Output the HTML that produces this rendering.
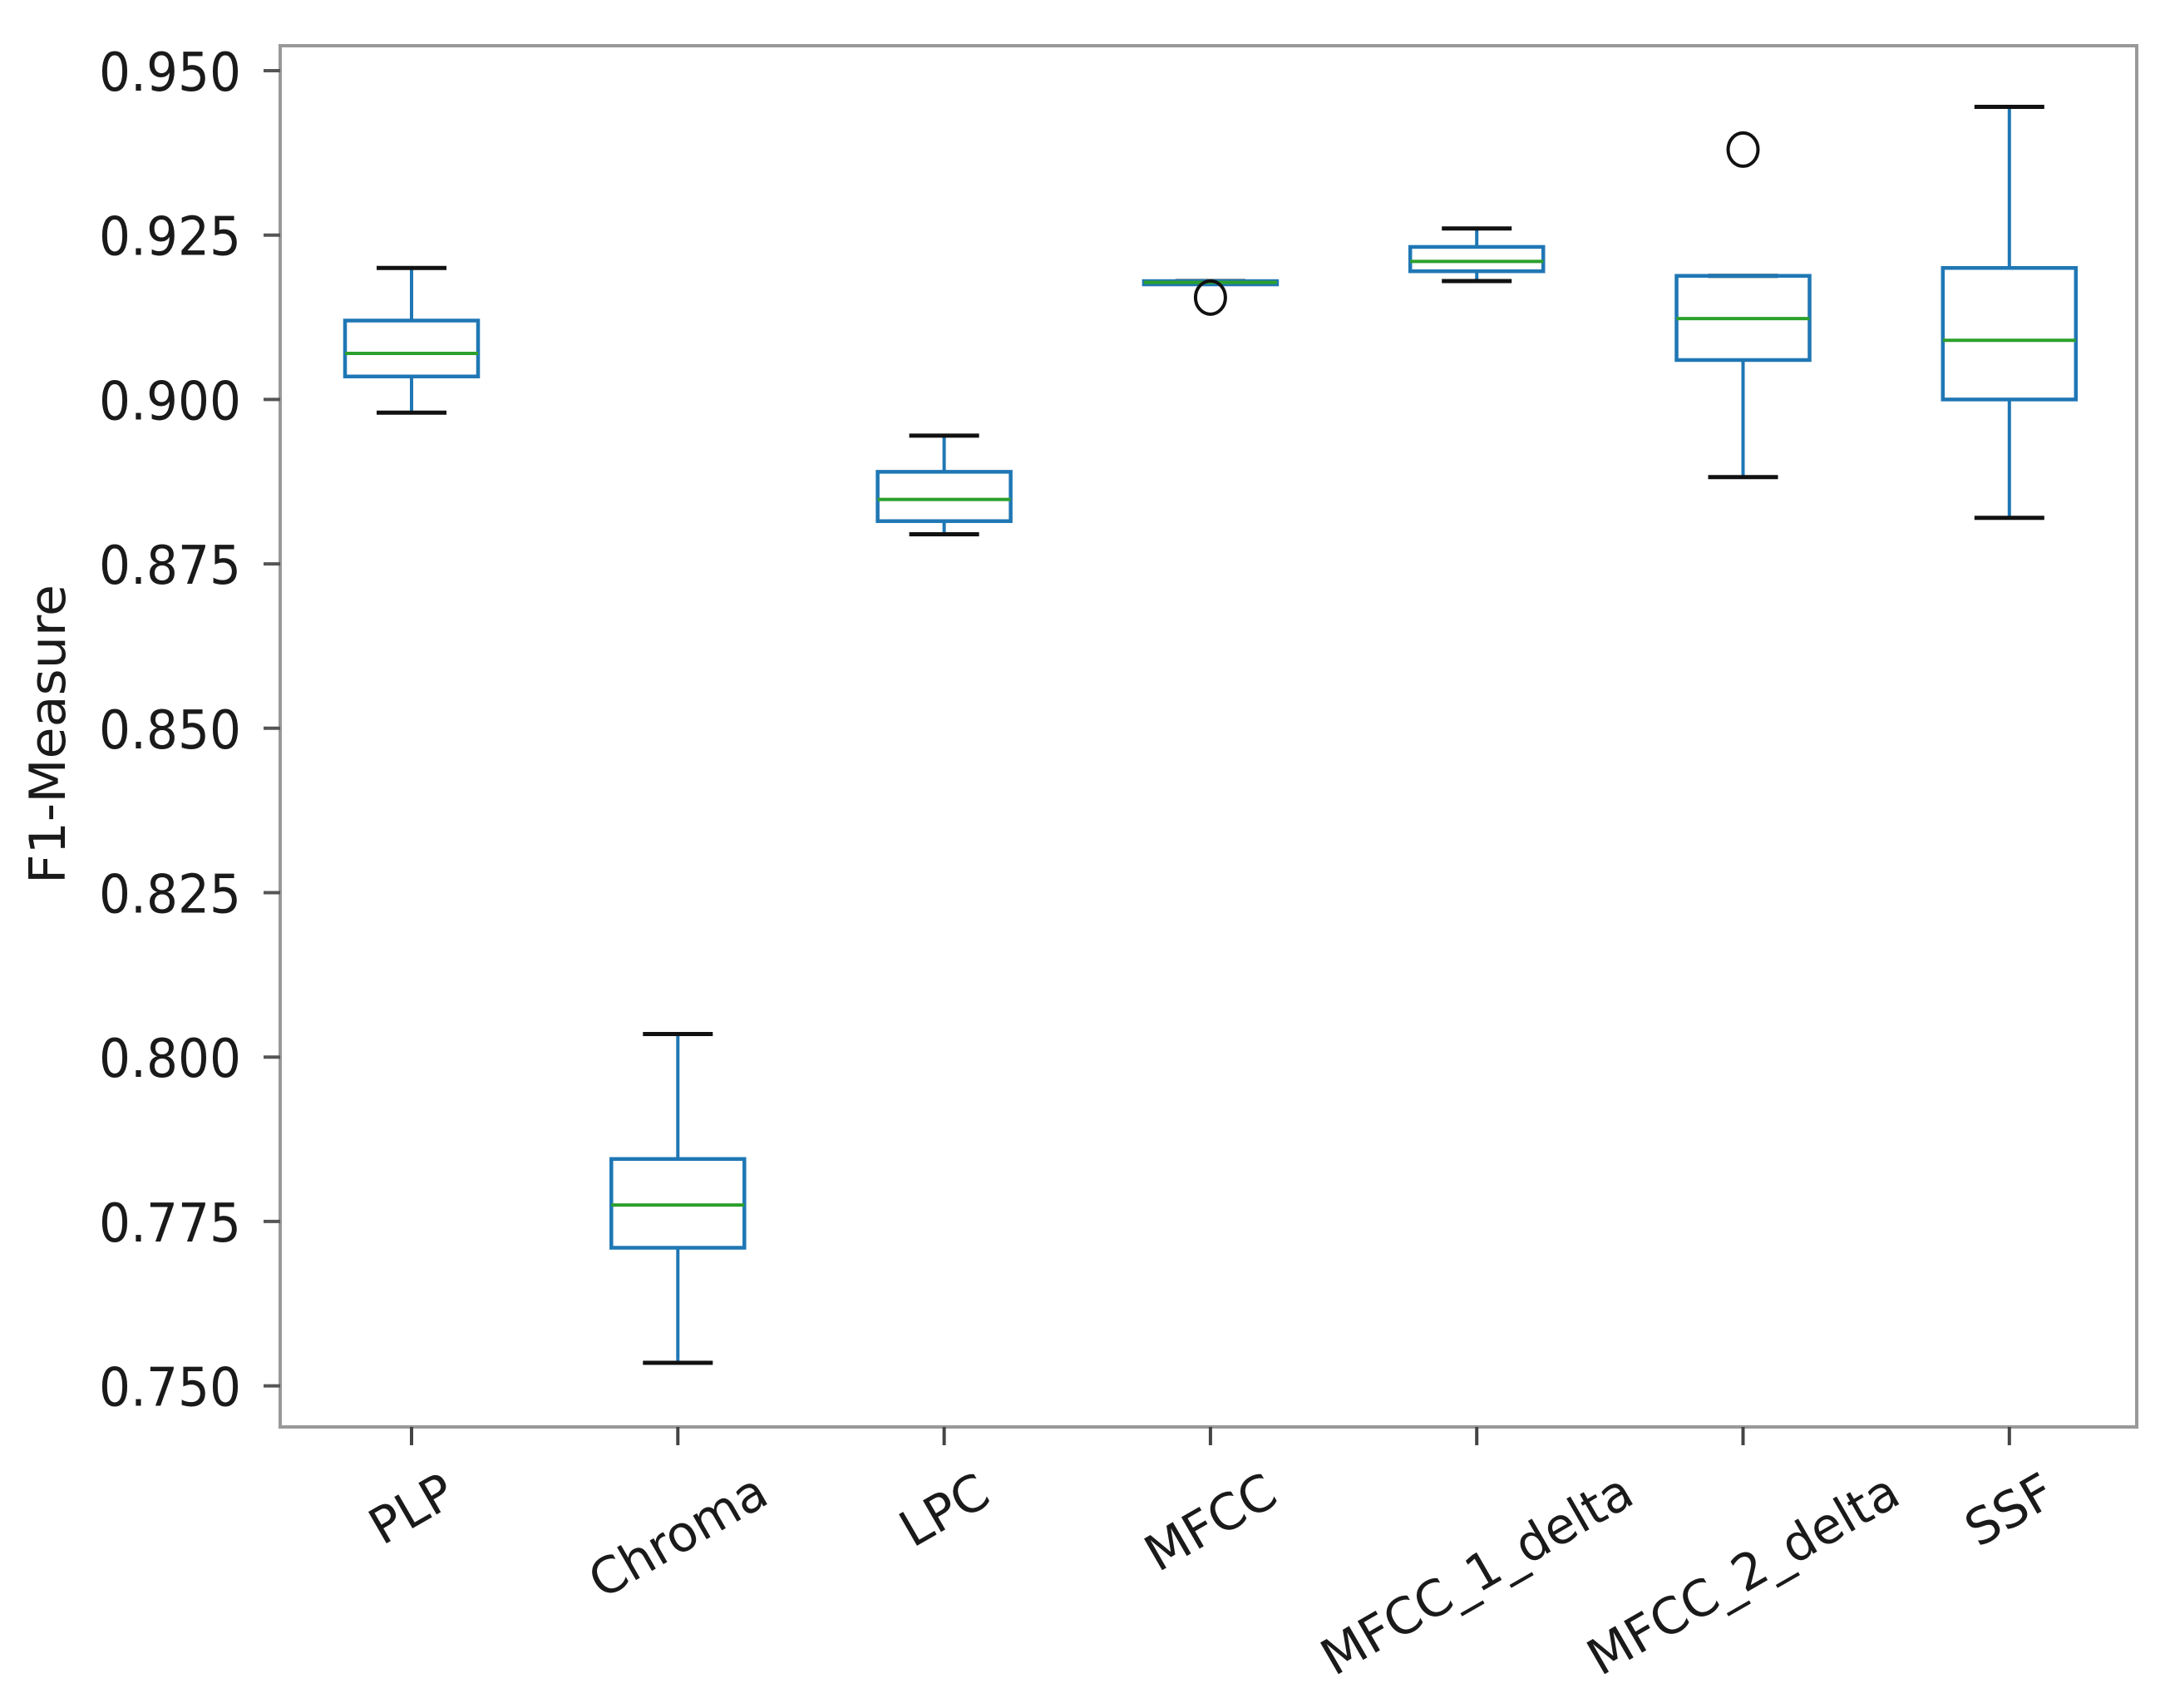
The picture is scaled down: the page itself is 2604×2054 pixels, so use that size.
<!DOCTYPE html>
<html><head><meta charset="utf-8"><style>
html,body{margin:0;padding:0;background:#fff}
svg{display:block}
text{font-family:"DejaVu Sans","Liberation Sans",sans-serif;fill:#1a1a1a}
</style></head><body>
<svg id="chart" width="2604" height="2054" viewBox="0 0 2604 2054">
<g id="plot"></g>
<text transform="translate(78,883) rotate(-90)" text-anchor="middle" font-size="60" textLength="360" lengthAdjust="spacingAndGlyphs">F1-Measure</text>
</svg>
<script>
const categories = ["PLP","Chroma","LPC","MFCC","MFCC_1_delta","MFCC_2_delta","SSF"];
const whiskerLow  = [0.898, 0.7535, 0.8795, 0.9176, 0.918, 0.8882, 0.882];
const q1          = [0.9035, 0.771, 0.8815, 0.9175, 0.9195, 0.906, 0.900];
const median      = [0.907, 0.7775, 0.8848, 0.9178, 0.921, 0.9123, 0.909];
const q3          = [0.912, 0.7845, 0.889, 0.918, 0.9232, 0.9188, 0.920];
const whiskerHigh = [0.920, 0.8035, 0.8945, 0.918, 0.926, 0.9188, 0.9445];
const outlierCat  = [3, 5];
const outlierVal  = [0.9155, 0.938];
const yTicks = [0.750, 0.775, 0.800, 0.825, 0.850, 0.875, 0.900, 0.925, 0.950];
const yTickLabels = ["0.750","0.775","0.800","0.825","0.850","0.875","0.900","0.925","0.950"];

const L=337, R=2570, T=55, B=1716;
function y(v){ return 85 + (0.95 - v) / 0.025 * 197.7; }
function x(i){ return 495 + i * 320.3; }
const NS="http://www.w3.org/2000/svg";
const g=document.getElementById('plot');
function mk(tag, attrs, parent){
  const e=document.createElementNS(NS,tag);
  for(const k in attrs) e.setAttribute(k, attrs[k]);
  (parent||g).appendChild(e); return e;
}
// spines
const frame=mk('rect',{x:L,y:T,width:R-L,height:B-T,fill:'none',stroke:'#999',"stroke-width":4});


// y ticks
yTicks.forEach((v,i)=>{
  const t=mk('line',{x1:L-20,x2:L,y1:y(v),y2:y(v),stroke:'#555',"stroke-width":4});
  
  
  const lb=mk('text',{x:290,y:y(v)+24,"text-anchor":"end","font-size":64,textLength:171,lengthAdjust:"spacingAndGlyphs"});
  lb.textContent=yTickLabels[i];
  
  
});
const hw=80, cw=42;
categories.forEach((c,i)=>{
  const cx=x(i);
  const grp=mk('g',{});
  
  
  mk('line',{x1:cx,x2:cx,y1:y(whiskerHigh[i]),y2:y(q3[i]),stroke:'#1f77b4',"stroke-width":4},grp);
  mk('line',{x1:cx,x2:cx,y1:y(q1[i]),y2:y(whiskerLow[i]),stroke:'#1f77b4',"stroke-width":4},grp);
  mk('line',{x1:cx-cw,x2:cx+cw,y1:y(whiskerHigh[i]),y2:y(whiskerHigh[i]),stroke:'#111',"stroke-width":5},grp);
  mk('line',{x1:cx-cw,x2:cx+cw,y1:y(whiskerLow[i]),y2:y(whiskerLow[i]),stroke:'#111',"stroke-width":5},grp);
  mk('rect',{x:cx-hw,y:y(q3[i]),width:2*hw,height:Math.max(1,y(q1[i])-y(q3[i])),fill:'none',stroke:'#1f77b4',"stroke-width":4.5},grp);
  mk('line',{x1:cx-hw,x2:cx+hw,y1:y(median[i]),y2:y(median[i]),stroke:'#2ca02c',"stroke-width":4},grp);
  // x tick
  const t=mk('line',{x1:cx,x2:cx,y1:B,y2:B+22,stroke:'#444',"stroke-width":4});
  
  
});
outlierCat.forEach((ci,k)=>{
  const o=mk('ellipse',{cx:x(ci),cy:y(outlierVal[k]),rx:18,ry:20,fill:'none',stroke:'#111',"stroke-width":4});
  
  
});
// x labels rotated 30deg, ha=center, va=top
categories.forEach((c,i)=>{
  const lb=mk('text',{"font-size":60,"text-anchor":"middle"});
  lb.textContent=c;
  
  
  const Lw=lb.getComputedTextLength(), h=60;
  const cy=1762 + (Lw*0.5 + h*0.866)/2;
  lb.setAttribute('transform','translate('+x(i)+','+cy+') rotate(-30) translate(0,'+(h*0.35)+')');
});
</script>
</body></html>
